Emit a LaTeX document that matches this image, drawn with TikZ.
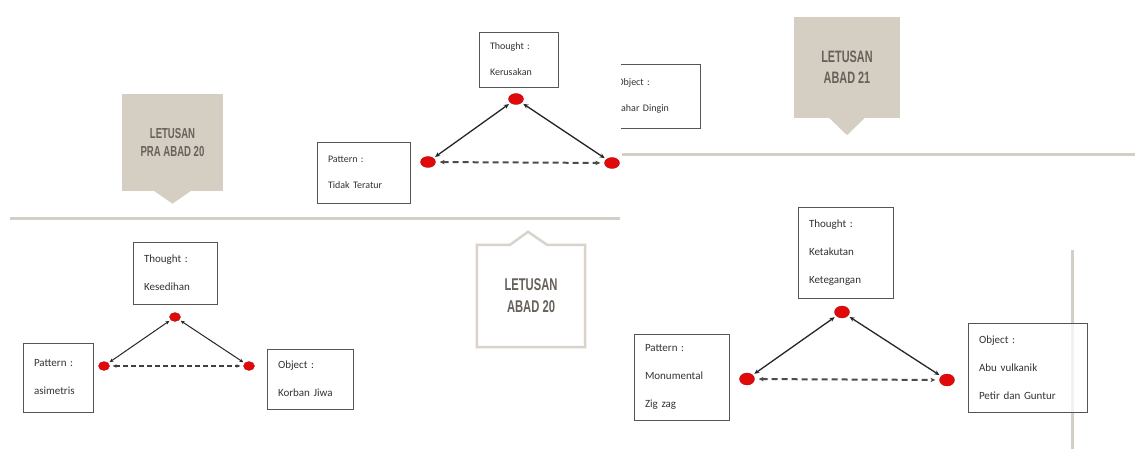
\documentclass[tikz,border=0pt]{standalone}
\usepackage{fontspec}
\setmainfont{Carlito}
\newfontfamily\tagfont[FakeStretch=0.66]{Liberation Sans}
\usetikzlibrary{arrows.meta}
\usetikzlibrary{shapes.geometric}
\definecolor{tagbeige}{HTML}{D5CFC3}
\definecolor{tagtext}{HTML}{66615A}
\definecolor{tagedge}{HTML}{D8D4CB}
\definecolor{barline}{HTML}{D3CFC6}
\definecolor{dotred}{HTML}{E10A0A}
\definecolor{boxedge}{HTML}{555555}
\tikzset{
  infobox/.style={draw=boxedge, line width=0.9pt, fill=white, rectangle, inner xsep=11pt, inner ysep=0pt,
    align=left, text=black!80, font=\fontsize{10}{26}\selectfont},
  bigbox/.style={infobox, font=\fontsize{11}{28}\selectfont},
  reddot/.style={ellipse, fill=dotred, draw=red!70!black, line width=0.3pt, inner sep=0pt,
    minimum width=15pt, minimum height=11pt},
  smalldot/.style={reddot, minimum width=11pt, minimum height=9pt},
  rel/.style={line width=1.3pt, black!85, {Stealth[length=5pt,width=4.5pt]}-{Stealth[length=5pt,width=4.5pt]},
    shorten <=2pt, shorten >=2pt},
  reldash/.style={rel, line width=2pt, black!70, dash pattern=on 6pt off 4pt, shorten <=4pt, shorten >=4pt},
  relsmall/.style={line width=1pt, black!85, {Stealth[length=4pt,width=3.5pt]}-{Stealth[length=4pt,width=3.5pt]},
    shorten <=1.5pt, shorten >=1.5pt},
  relsmalldash/.style={relsmall, line width=1.4pt, black!75, dash pattern=on 5pt off 3pt, shorten <=3pt, shorten >=3pt},
  labeltag/.style={fill=tagbeige, text=tagtext, align=center, inner sep=0pt},
  tagline/.style={draw=tagedge, line width=2.5pt, line join=miter},
  divider/.style={barline, line width=3pt},
}
\begin{document}
\begin{tikzpicture}[x=1pt,y=-1pt]
  \fill[white] (0,0) rectangle (1135,449);
  \useasboundingbox (0,0) rectangle (1135,449);

  \draw[divider] (10,219) -- (620,219);
  \draw[divider] (622,155) -- (1135,155);
  \draw[divider] (1072,250) -- (1072,449);

  \node[labeltag, minimum width=101pt, minimum height=97pt, font=\tagfont\bfseries\fontsize{14.5}{18}\selectfont]
    (pra) at (172.5,143) {LETUSAN\\PRA ABAD 20};
  \fill[tagbeige] ([xshift=-18pt,yshift=0.5pt]pra.south) -- ([xshift=18pt,yshift=0.5pt]pra.south)
    -- ([yshift=-12pt]pra.south) -- cycle;

  \node[labeltag, minimum width=106pt, minimum height=101pt, font=\tagfont\bfseries\fontsize{16.5}{21}\selectfont]
    (abadxxi) at (847,67.5) {LETUSAN\\ABAD 21};
  \fill[tagbeige] ([xshift=-18pt,yshift=0.5pt]abadxxi.south) -- ([xshift=18pt,yshift=0.5pt]abadxxi.south)
    -- ([yshift=-17pt]abadxxi.south) -- cycle;

  \node[labeltag, fill=none, minimum width=108pt, minimum height=102pt, font=\tagfont\bfseries\fontsize{17}{22}\selectfont]
    (abadxx) at (531,296) {LETUSAN\\ABAD 20};
  \draw[tagline] (abadxx.north west) -- ([xshift=-21pt]abadxx.north) -- ([xshift=-3pt,yshift=13pt]abadxx.north)
    -- ([xshift=16pt]abadxx.north) -- (abadxx.north east) -- (abadxx.south east) -- (abadxx.south west) -- cycle;

  \node[infobox, text width=57pt, minimum height=55pt] (thA) at (518.5,59.5) {Thought :\\Kerusakan};
  \node[infobox, text width=71pt, minimum height=61pt] (paA) at (363.5,172.5) {Pattern :\\Tidak Teratur};
  \begin{scope}
    \clip (621,0) rectangle (1135,449);
    \node[infobox, text width=72pt, minimum height=64pt] (obA) at (653,96) {Object :\\Lahar Dingin};
  \end{scope}
  \node[reddot] (dAt) at (516,99) {};
  \node[reddot] (dAl) at (428,162) {};
  \node[reddot] (dAr) at (612,163) {};
  \draw[rel] (dAt) -- (dAl);
  \draw[rel] (dAt) -- (dAr);
  \draw[reldash] (dAl) -- (dAr);

  \node[bigbox, text width=62pt, minimum height=62pt] (thB) at (175,273) {Thought :\\Kesedihan};
  \node[bigbox, text width=48pt, minimum height=69pt] (paB) at (58,377.5) {Pattern :\\asimetris};
  \node[bigbox, text width=64pt, minimum height=60pt] (obB) at (310,379) {Object :\\Korban Jiwa};
  \node[smalldot] (dBt) at (175,317) {};
  \node[smalldot] (dBl) at (104,366) {};
  \node[smalldot] (dBr) at (249,366) {};
  \draw[relsmall] (dBt) -- (dBl);
  \draw[relsmall] (dBt) -- (dBr);
  \draw[relsmalldash] (dBl) -- (dBr);

  \node[bigbox, text width=73pt, minimum height=91pt] (thC) at (845.5,252.5) {Thought :\\Ketakutan\\Ketegangan};
  \node[bigbox, text width=73pt, minimum height=86pt] (paC) at (681.5,377) {Pattern :\\Monumental\\Zig zag};
  \node[bigbox, text width=97pt, minimum height=89pt, fill opacity=0.75, text opacity=1]
    (obC) at (1027.5,367.5) {Object :\\Abu vulkanik\\Petir dan Guntur};
  \node[reddot, minimum height=12pt] (dCt) at (842,312) {};
  \node[reddot, minimum height=12pt] (dCl) at (747,379) {};
  \node[reddot, minimum height=12pt] (dCr) at (947,380) {};
  \draw[rel] (dCt) -- (dCl);
  \draw[rel] (dCt) -- (dCr);
  \draw[reldash] (dCl) -- (dCr);
\end{tikzpicture}
\end{document}
